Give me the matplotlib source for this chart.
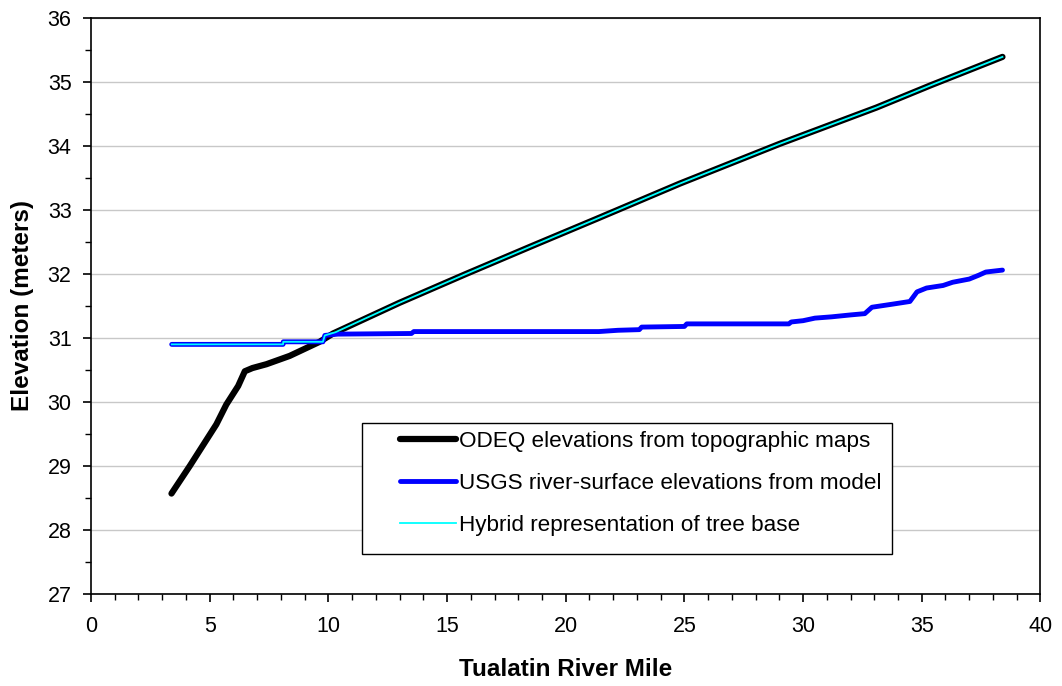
import matplotlib
matplotlib.use("Agg")
import matplotlib.pyplot as plt
from matplotlib.patches import Rectangle
from matplotlib.ticker import MultipleLocator

plt.rcParams["font.family"] = ["Liberation Sans", "DejaVu Sans"]

# ODEQ elevations from topographic maps
odeq_mile = [3.39, 4.16, 5.28, 5.7, 6.2, 6.48, 6.8, 7.39, 8.37, 9.63, 10.2,
             13.0, 15.8, 18.6, 21.3, 24.8, 29.0, 33.1, 35.4, 38.4]
odeq_elev = [28.57, 29.0, 29.65, 29.96, 30.25, 30.48, 30.53, 30.59, 30.72, 30.94, 31.07,
             31.55, 32.0, 32.44, 32.86, 33.41, 34.03, 34.6, 34.95, 35.39]

# USGS river-surface elevations from model
usgs_mile = [3.4, 8.09, 8.1, 9.77, 9.85, 10.4, 13.5, 13.6, 21.4, 22.2, 23.1, 23.2,
             25.0, 25.1, 29.4, 29.5, 30.0, 30.5, 31.2, 32.0, 32.6, 32.9, 33.8,
             34.5, 34.8, 35.2, 35.9, 36.3, 37.0, 37.4, 37.7, 38.4]
usgs_elev = [30.90, 30.90, 30.94, 30.94, 31.04, 31.06, 31.07, 31.10, 31.10, 31.12, 31.13, 31.17,
             31.18, 31.22, 31.22, 31.25, 31.27, 31.31, 31.33, 31.36, 31.38, 31.48, 31.53,
             31.57, 31.72, 31.78, 31.82, 31.87, 31.92, 31.98, 32.03, 32.06]

# Hybrid representation of tree base
hybrid_mile = [3.4, 8.09, 8.1, 9.77, 9.85, 10.3,
               13.0, 15.8, 18.6, 21.3, 24.8, 29.0, 33.1, 35.4, 38.4]
hybrid_elev = [30.90, 30.90, 30.94, 30.94, 31.04, 31.09,
               31.55, 32.0, 32.44, 32.86, 33.41, 34.03, 34.6, 34.95, 35.39]

fig = plt.figure(figsize=(10.62, 6.86), dpi=100)
ax = fig.add_axes([0.0857, 0.134, 0.894, 0.84])

ax.plot(odeq_mile, odeq_elev, color="black", lw=4.5, solid_capstyle="round",
        label="ODEQ elevations from topographic maps", zorder=3)
ax.plot(usgs_mile, usgs_elev, color="#0000ff", lw=3.5, solid_capstyle="round",
        label="USGS river-surface elevations from model", zorder=4)
ax.plot(hybrid_mile, hybrid_elev, color="#00ffff", lw=1.3,
        label="Hybrid representation of tree base", zorder=5)

ax.set_xlim(0, 40)
ax.set_ylim(27, 36)
ax.xaxis.set_major_locator(MultipleLocator(5))
ax.xaxis.set_minor_locator(MultipleLocator(1))
ax.yaxis.set_major_locator(MultipleLocator(1))
ax.yaxis.set_minor_locator(MultipleLocator(0.5))
ax.tick_params(which="major", direction="out", length=6, width=1.2, labelsize=15.5)
ax.tick_params(which="minor", direction="out", length=4, width=1.0)
ax.tick_params(axis="x", which="major", pad=10)
ax.tick_params(axis="y", which="major", pad=8)
ax.grid(axis="y", which="major", color="#c8c8c8", lw=1.0)
ax.set_axisbelow(True)
for s in ax.spines.values():
    s.set_linewidth(1.2)
    s.set_color("black")

ax.set_xlabel("Tualatin River Mile", fontsize=17.5, fontweight="bold", labelpad=15)
ax.set_ylabel("Elevation (meters)", fontsize=17.5, fontweight="bold", labelpad=10)

# legend box drawn separately so the inner padding can match
ax.add_patch(Rectangle((0.285, 0.069), 0.559, 0.228, transform=ax.transAxes,
                       facecolor="white", edgecolor="black", lw=1.0, zorder=6))
leg = ax.legend(loc="upper left", bbox_to_anchor=(0.325, 0.283),
                fontsize=16.2, frameon=False, handlelength=2.5, handletextpad=0.15,
                borderpad=0, borderaxespad=0, labelspacing=0.93)
leg.set_zorder(7)

fig.savefig("out.png", dpi=100)
